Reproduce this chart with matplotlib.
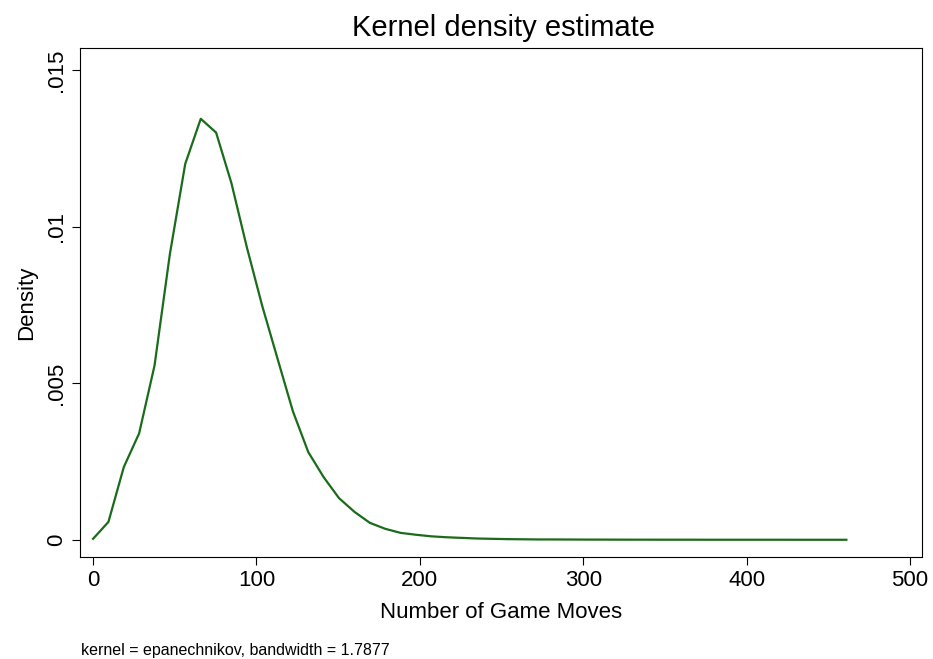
import matplotlib
matplotlib.use("Agg")
import matplotlib.pyplot as plt

moves = [0, 9.4, 18.8, 28.2, 37.6, 47.0, 56.4, 65.9, 75.3, 84.7, 94.1, 103.5, 112.9, 122.3, 131.7,
         141.1, 150.5, 160.0, 169.4, 178.8, 188.2, 197.6, 207.0, 216.4, 225.8, 235.2, 244.6, 254.0,
         263.5, 272.9, 282.3, 291.7, 301.1, 310.5, 319.9, 329.3, 338.7, 348.1, 357.6, 367.0, 376.4,
         385.8, 395.2, 404.6, 414.0, 423.4, 432.8, 442.2, 451.6, 461.0]
density = [0.00003, 0.00057, 0.00232, 0.0034, 0.00556, 0.00912, 0.0120, 0.01344, 0.0130, 0.01138,
           0.00934, 0.00747, 0.00578, 0.0041, 0.0028, 0.0020, 0.00133, 0.00089, 0.00054, 0.00035,
           0.00022, 0.00016, 0.00011, 0.00008, 0.00006, 0.00004, 0.00003, 0.00002, 0.000015, 0.00001,
           0.00001, 0.000008, 0.000006, 0.000005, 0.000004, 0.000003, 0.000003, 0.000002, 0.000002,
           0.000002, 0.000001, 0.000001, 0.000001, 0.000001, 0.000001, 0.000001, 0.0, 0.0, 0.0, 0.0]
xticks = [0, 100, 200, 300, 400, 500]
yticks = [0, 0.005, 0.01, 0.015]
ylabels = ["0", ".005", ".01", ".015"]

plt.rcParams['font.family'] = ['Liberation Sans', 'DejaVu Sans']
fig = plt.figure(figsize=(9.33, 6.59), dpi=100)
ax = fig.add_axes([80/933, 1-557/659, (922-80)/933, (557-48)/659])
ax.plot(moves, density, color='#1a6b1a', lw=1.6)
ax.set_xlim(-8, 507.3)
ax.set_ylim(-0.00055, 0.0157)
ax.set_xticks(xticks)
ax.set_yticks(yticks)
ax.set_yticklabels(ylabels, rotation=90, va='center')
ax.tick_params(labelsize=16, length=6)
ax.set_xlabel("Number of Game Moves", fontsize=16, labelpad=8)
ax.set_ylabel("Density", fontsize=16, labelpad=6)
fig.text(0.54, 1-28/659, "Kernel density estimate", fontsize=21, ha='center', va='center')
fig.text(81/933, 1-650/659, "kernel = epanechnikov, bandwidth = 1.7877", fontsize=11.5, va='center')
fig.savefig("out.png", dpi=100)
